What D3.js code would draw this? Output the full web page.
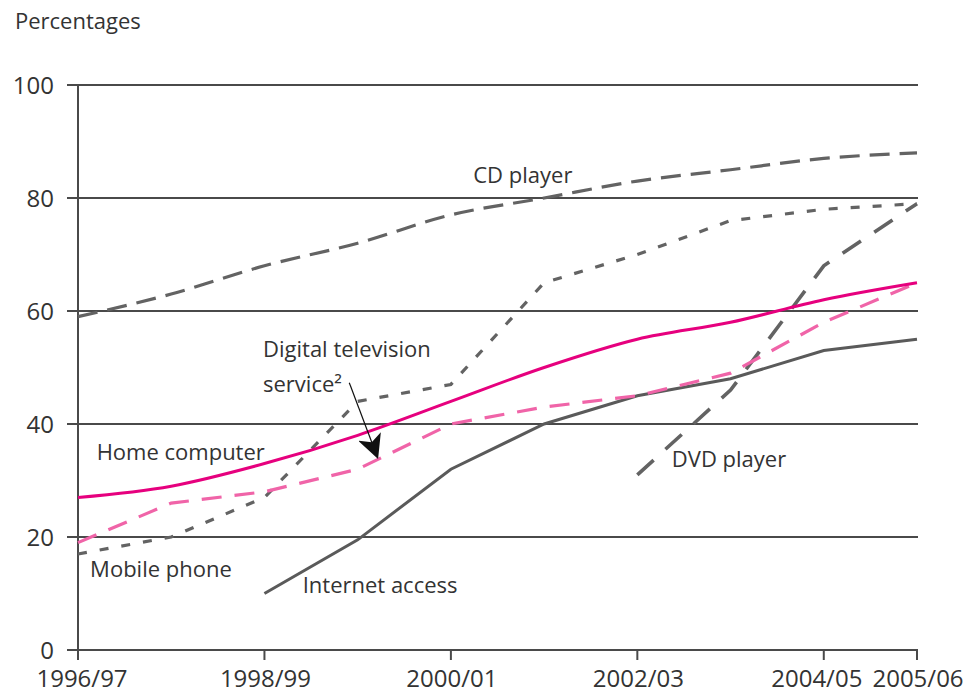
<!DOCTYPE html>
<html>
<head>
<meta charset="utf-8">
<script src="https://cdn.jsdelivr.net/npm/d3@7"></script>
<style>
  body { margin: 0; background: #fff; }
  text { font-family: "Open Sans", "Noto Sans", sans-serif; fill: #333; }
</style>
</head>
<body>
<script>
// Years on the x axis and the ones that get a label
var years = ["1996/97", "1997/98", "1998/99", "1999/00", "2000/01",
             "2001/02", "2002/03", "2003/04", "2004/05", "2005/06"];
var yearTicks = ["1996/97", "1998/99", "2000/01", "2002/03", "2004/05", "2005/06"];
var yTicks = [0, 20, 40, 60, 80, 100];

// Percentages of households, null where no data
var cdPlayer      = [59, 63, 68, 72, 77, 80, 83, 85, 87, 88];
var mobilePhone   = [17, 20, 27, 44, 47, 65, 70, 76, 78, 79];
var homeComputer  = [27, 29, 33, 38, 44, 50, 55, 58, 62, 65];
var digitalTv     = [19, 26, 28, 32, 40, 43, 45, 49, 58, 65];
var internet      = [null, null, 10, 19.5, 32, 40, 45, 48, 53, 55];
var dvdPlayer     = [null, null, null, null, null, null, 31, 46, 68, 79];

var svgWidth = 978;
var svgHeight = 694;

var svg = d3.select("body")
  .append("svg")
  .attr("width", svgWidth)
  .attr("height", svgHeight);

// index scale for the years
var x = d3.scaleLinear()
  .domain([0, years.length - 1])
  .range([78, 917]);

var y = d3.scaleLinear()
  .domain([0, 100])
  .range([650, 85]);

var axisColor = "#4a4a4a";

// Title
svg.append("text")
  .attr("x", 15)
  .attr("y", 29)
  .style("font-size", "22px")
  .text("Percentages");

// Gridlines
svg.append("g")
  .selectAll("line")
  .data(yTicks)
  .join("line")
    .attr("x1", 67)
    .attr("x2", x(years.length - 1) + 1)
    .attr("y1", d => y(d))
    .attr("y2", d => y(d))
    .attr("stroke", axisColor)
    .attr("stroke-width", 2);

// y tick labels
svg.append("g")
  .selectAll("text")
  .data(yTicks)
  .join("text")
    .attr("x", 54)
    .attr("y", d => y(d))
    .attr("dy", "0.36em")
    .attr("text-anchor", "end")
    .style("font-size", "24px")
    .text(d => d);

// vertical axis line
svg.append("line")
  .attr("x1", x(0)).attr("x2", x(0))
  .attr("y1", y(100)).attr("y2", y(0) + 10)
  .attr("stroke", axisColor)
  .attr("stroke-width", 2);

// x ticks and labels
var xt = svg.append("g")
  .selectAll("g")
  .data(yearTicks)
  .join("g")
    .attr("transform", d => `translate(${x(years.indexOf(d))},${y(0)})`);

xt.append("line")
  .attr("y1", 0)
  .attr("y2", 10)
  .attr("stroke", axisColor)
  .attr("stroke-width", 2);

xt.append("text")
  .attr("y", 37)
  .attr("x", d => d === "1996/97" ? 4 : (d === "2004/05" ? -7 : 1))
  .attr("text-anchor", "middle")
  .style("font-size", "24px")
  .text(d => d);

// Series lines
var series = [
  {name: "CD player", values: cdPlayer, color: "#636363", width: 3.2, dash: "20,10", curve: d3.curveMonotoneX},
  {name: "Mobile phone", values: mobilePhone, color: "#636363", width: 3.2, dash: "9,13", curve: d3.curveLinear},
  {name: "Internet access", values: internet, color: "#5a5a5a", width: 3, dash: null, curve: d3.curveLinear},
  {name: "DVD player", values: dvdPlayer, color: "#636363", width: 3.6, dash: "22,16", curve: d3.curveLinear},
  {name: "Digital television service", values: digitalTv, color: "#f064a8", width: 3.2, dash: "20,13", curve: d3.curveLinear},
  {name: "Home computer", values: homeComputer, color: "#e6007e", width: 3, dash: null, curve: d3.curveMonotoneX}
];

svg.append("g")
  .selectAll("path")
  .data(series)
  .join("path")
    .attr("d", d => d3.line()
      .defined(v => v != null)
      .x((v, i) => x(i))
      .y(v => y(v))
      .curve(d.curve)(d.values))
    .attr("fill", "none")
    .attr("stroke", d => d.color)
    .attr("stroke-width", d => d.width)
    .attr("stroke-dasharray", d => d.dash);

// Series labels (positions in index / percentage units)
var labels = [
  {text: "CD player", i: 4.24, v: 82.7},
  {text: "Digital television", i: 1.985, v: 51.9},
  {text: "service²", i: 1.985, v: 45.7},
  {text: "Home computer", i: 0.2, v: 33.6},
  {text: "Mobile phone", i: 0.13, v: 12.9},
  {text: "Internet access", i: 2.41, v: 10.1},
  {text: "DVD player", i: 6.37, v: 32.4}
];

svg.append("g")
  .selectAll("text")
  .data(labels)
  .join("text")
    .attr("x", d => x(d.i))
    .attr("y", d => y(d.v))
    .style("font-size", "22px")
    .text(d => d.text);

// arrow from the digital tv label to its line
svg.append("defs")
  .append("marker")
    .attr("id", "head")
    .attr("viewBox", "0 0 10 10")
    .attr("refX", 9)
    .attr("refY", 5)
    .attr("markerWidth", 24)
    .attr("markerHeight", 24)
    .attr("markerUnits", "userSpaceOnUse")
    .attr("orient", "auto")
  .append("path")
    .attr("d", "M0,0L10,5L0,10L2.5,5z")
    .attr("fill", "#111");

svg.append("line")
  .attr("x1", x(2.91)).attr("y1", y(47.3))
  .attr("x2", x(3.21)).attr("y2", y(34.2))
  .attr("stroke", "#111")
  .attr("stroke-width", 1.2)
  .attr("marker-end", "url(#head)");
</script>
</body>
</html>
